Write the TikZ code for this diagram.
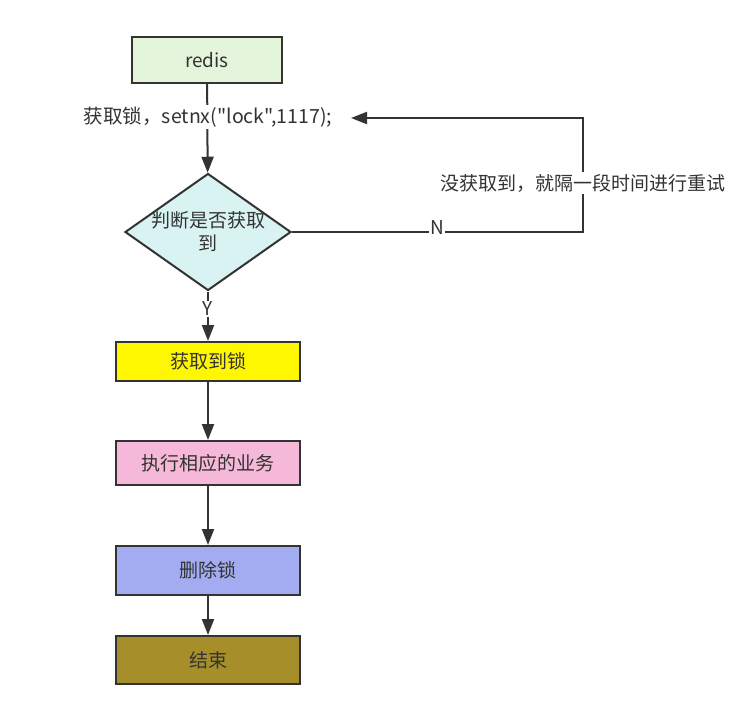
\documentclass[tikz,border=0pt]{standalone}
\usepackage{fontspec}
\newfontfamily\cjk{Noto Sans CJK SC}
\usetikzlibrary{shapes.geometric,arrows.meta}
\definecolor{ink}{HTML}{333333}
\definecolor{redisgreen}{HTML}{E4F5DC}
\definecolor{judgecyan}{HTML}{D9F3F3}
\definecolor{gotyellow}{HTML}{FFF700}
\definecolor{workpink}{HTML}{F5B8D8}
\definecolor{delblue}{HTML}{A3ACF0}
\definecolor{endolive}{HTML}{A68F2B}
\begin{document}
\begin{tikzpicture}[x=1pt,y=1pt,line width=2pt,>={Triangle[length=16pt,width=12pt]},
  line join=miter,font=\cjk\fontsize{19}{23}\selectfont,color=ink,
  stepbox/.style={draw=ink,rectangle,minimum width=184pt,minimum height=40pt,inner sep=0pt},
  tag/.style={fill=white,inner sep=2pt,text=ink}]
  \useasboundingbox (0,0) rectangle (742,-713);
  % boxes of the lock flow, top to bottom
  \node[stepbox,fill=redisgreen,minimum width=150pt,minimum height=46pt] (redis) at (207,-60) {redis};
  \node[draw=ink,diamond,fill=judgecyan,minimum width=166pt,minimum height=117pt,
    inner sep=0pt,label={[align=center,text=ink]center:判断是否获取\\到}] (judge) at (208,-232) {};
  \node[stepbox,fill=gotyellow,minimum height=39pt] (got) at (208,-361.5) {获取到锁};
  \node[stepbox,fill=workpink,minimum height=44pt] (work) at (208,-463) {执行相应的业务};
  \node[stepbox,fill=delblue,minimum height=49pt] (del) at (208,-570.5) {删除锁};
  \node[stepbox,fill=endolive,minimum height=48pt] (finish) at (208,-660) {结束};
  % retry loop corners
  \coordinate (turn) at (583,-232);
  \coordinate (loopend) at (351,-118);
  \draw[->] (redis) -- (judge);
  \draw[->] (judge) -- (got);
  \draw[->] (got) -- (work);
  \draw[->] (work) -- (del);
  \draw[->] (del) -- (finish);
  \draw[->] (judge.east) -| (turn) |- (loopend);
  \node[tag,font=\cjk\fontsize{19.5}{23}\selectfont] (setlock) at (208,-117) {获取锁，setnx("lock",1117);};
  \node[tag,inner sep=1pt] (yes) at (208,-309) {Y};
  \node[tag,inner sep=1pt] (no) at (437,-228) {N};
  \node[tag] (retry) at (583,-183) {没获取到，就隔一段时间进行重试};
\end{tikzpicture}
\end{document}
